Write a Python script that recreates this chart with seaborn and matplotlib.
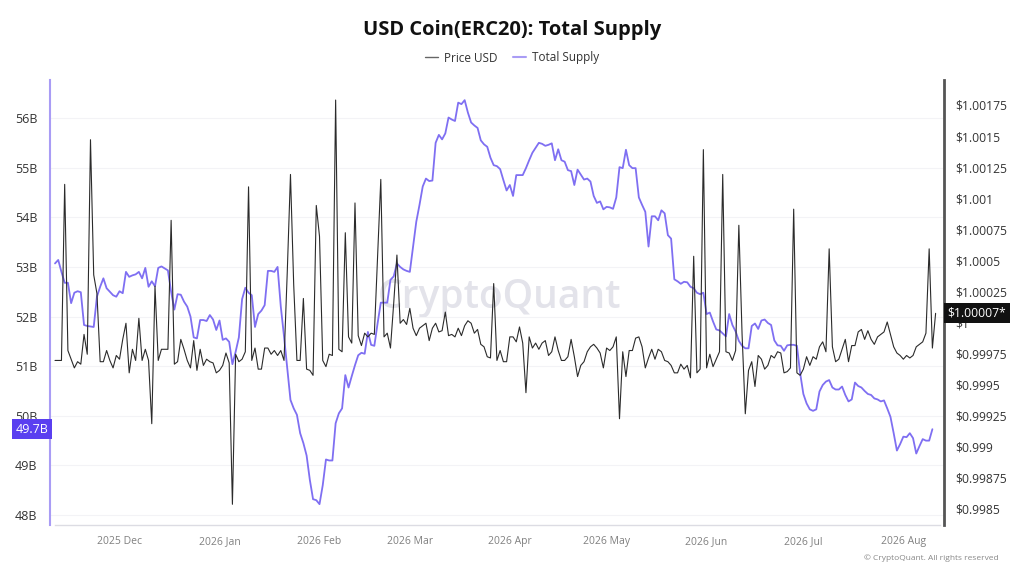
import pandas as pd
import matplotlib
matplotlib.use("Agg")
import matplotlib.pyplot as plt
import matplotlib.dates as mdates
import matplotlib.transforms as mtransforms
from matplotlib.lines import Line2D
from matplotlib.ticker import FixedLocator, FuncFormatter
import seaborn as sns

# daily values, starting 2025-11-11
start_date = "2025-11-11"

supply_b = [
    53.07, 53.14, 52.90, 52.68, 52.68, 52.27, 52.48, 52.51, 52.49, 51.83,
    51.81, 51.80, 51.79, 52.40, 52.60, 52.77, 52.57, 52.50, 52.43, 52.40,
    52.51, 52.47, 52.90, 52.80, 52.83, 52.85, 52.90, 52.77, 52.98, 52.60,
    52.71, 52.61, 52.98, 53.01, 52.97, 52.93, 52.50, 52.14, 52.45, 52.44,
    52.30, 52.20, 52.00, 51.58, 51.56, 51.93, 51.93, 51.91, 52.03, 51.94,
    51.73, 51.92, 51.53, 51.56, 51.49, 51.04, 51.29, 51.58, 52.35, 52.58,
    52.48, 52.43, 51.79, 52.05, 52.12, 52.23, 52.92, 52.92, 52.90, 53.00,
    52.20, 51.60, 50.95, 50.32, 50.15, 50.02, 49.65, 49.45, 49.20, 48.71,
    48.32, 48.30, 48.22, 48.60, 49.12, 49.10, 49.10, 49.85, 50.05, 50.15,
    50.82, 50.57, 50.80, 51.02, 51.22, 51.27, 51.25, 51.69, 51.43, 51.41,
    51.86, 52.28, 52.28, 52.28, 52.74, 52.81, 53.07, 53.00, 52.95, 52.92,
    52.90, 53.41, 53.91, 54.25, 54.62, 54.78, 54.73, 54.74, 55.50, 55.66,
    55.57, 55.69, 56.01, 55.97, 55.94, 56.31, 56.28, 56.36, 56.11, 55.91,
    55.85, 55.80, 55.55, 55.47, 55.42, 55.20, 55.05, 55.03, 54.97, 54.75,
    54.54, 54.65, 54.43, 54.85, 54.85, 54.85, 54.99, 55.15, 55.30, 55.40,
    55.50, 55.48, 55.44, 55.46, 55.49, 55.15, 55.37, 55.15, 55.12, 54.95,
    54.93, 54.65, 54.96, 54.86, 54.76, 54.78, 54.72, 54.43, 54.29, 54.32,
    54.16, 54.21, 54.20, 54.17, 54.40, 55.01, 54.99, 55.36, 55.05, 54.99,
    54.99, 54.40, 54.25, 54.11, 53.41, 54.02, 54.02, 53.94, 54.14, 54.08,
    53.64, 53.57, 52.75, 52.71, 52.66, 52.70, 52.69, 52.60, 52.57, 52.48,
    52.45, 52.48, 52.05, 52.08, 51.90, 51.74, 51.72, 51.66, 51.60, 52.05,
    51.83, 51.70, 51.51, 51.41, 51.36, 51.36, 51.81, 51.86, 51.75, 51.92,
    51.94, 51.87, 51.83, 51.52, 51.42, 51.41, 51.31, 51.42, 51.43, 51.43,
    51.41, 50.86, 50.44, 50.25, 50.13, 50.10, 50.13, 50.49, 50.62, 50.69,
    50.72, 50.57, 50.53, 50.53, 50.59, 50.42, 50.29, 50.33, 50.67, 50.60,
    50.57, 50.50, 50.44, 50.42, 50.35, 50.33, 50.29, 50.31, 50.15, 49.98,
    49.65, 49.30, 49.43, 49.58, 49.57, 49.65, 49.55, 49.24, 49.39, 49.53,
    49.50, 49.50, 49.73,
]

price_usd = [
    0.99969, 0.99969, 0.99969, 1.00111, 0.99977, 0.99970, 0.99963, 0.99968, 0.99966, 0.99990,
    0.99974, 1.00147, 1.00038, 1.00023, 0.99968, 0.99968, 0.99977, 0.99969, 0.99963, 0.99973,
    0.99970, 0.99986, 0.99999, 0.99959, 0.99978, 0.99969, 1.00003, 0.99969, 0.99978, 0.99969,
    0.99918, 1.00029, 0.99969, 0.99978, 0.99978, 0.99978, 1.00082, 0.99966, 0.99968, 0.99986,
    0.99978, 0.99969, 0.99963, 0.99985, 0.99961, 0.99978, 0.99965, 0.99970, 0.99968, 0.99967,
    0.99959, 0.99961, 0.99965, 0.99975, 0.99967, 0.99853, 0.99974, 0.99968, 0.99970, 0.99976,
    1.00109, 0.99969, 0.99979, 0.99962, 0.99962, 0.99979, 0.99979, 0.99974, 0.99977, 0.99973,
    0.99977, 0.99969, 1.00040, 1.00119, 1.00030, 0.99969, 0.99969, 1.00019, 0.99962, 0.99961,
    0.99957, 1.00094, 1.00069, 0.99969, 0.99964, 0.99974, 0.99973, 1.00179, 0.99978, 0.99976,
    1.00072, 0.99988, 0.99983, 1.00096, 0.99989, 0.99981, 0.99991, 0.99988, 0.99991, 0.99990,
    1.00053, 1.00115, 0.99988, 0.99991, 0.99979, 1.00015, 1.00054, 0.99999, 1.00002, 0.99998,
    1.00011, 0.99995, 0.99989, 0.99995, 0.99997, 0.99999, 0.99985, 0.99995, 0.99999, 0.99992,
    0.99993, 1.00008, 0.99989, 0.99990, 0.99988, 0.99995, 0.99989, 0.99997, 1.00001, 0.99999,
    0.99991, 0.99994, 0.99982, 0.99980, 0.99972, 0.99971, 1.00031, 0.99969, 0.99977, 0.99968,
    0.99968, 0.99988, 0.99988, 0.99984, 0.99996, 0.99983, 0.99943, 0.99988, 0.99979, 0.99983,
    0.99978, 0.99983, 0.99985, 0.99973, 0.99976, 0.99988, 0.99977, 0.99969, 0.99969, 0.99972,
    0.99986, 0.99972, 0.99956, 0.99965, 0.99968, 0.99976, 0.99980, 0.99982, 0.99979, 0.99975,
    0.99963, 0.99979, 0.99977, 0.99980, 0.99988, 0.99922, 0.99976, 0.99956, 0.99977, 0.99977,
    0.99987, 0.99988, 0.99980, 0.99963, 0.99971, 0.99978, 0.99970, 0.99978, 0.99976, 0.99969,
    0.99968, 0.99965, 0.99959, 0.99959, 0.99966, 0.99962, 0.99965, 0.99955, 1.00053, 0.99959,
    0.99962, 1.00139, 0.99963, 0.99974, 0.99964, 0.99970, 0.99976, 1.00119, 0.99976, 0.99975,
    0.99969, 0.99977, 1.00078, 0.99990, 0.99926, 0.99961, 0.99968, 0.99948, 0.99973, 0.99970,
    0.99962, 0.99965, 0.99973, 0.99971, 0.99976, 0.99975, 0.99959, 0.99960, 0.99963, 1.00091,
    0.99959, 0.99957, 0.99962, 0.99972, 0.99965, 0.99972, 0.99970, 0.99980, 0.99984, 0.99976,
    1.00059, 0.99980, 0.99968, 0.99970, 0.99978, 0.99986, 0.99968, 0.99981, 0.99981, 0.99992,
    0.99994, 0.99986, 0.99993, 0.99986, 0.99982, 0.99988, 0.99990, 0.99992, 1.00000, 0.99990,
    0.99980, 0.99975, 0.99973, 0.99970, 0.99973, 0.99971, 0.99973, 0.99980, 0.99982, 0.99984,
    0.99991, 1.00059, 0.99979, 1.00007,
]

left_ticks = [48, 49, 50, 51, 52, 53, 54, 55, 56]
right_ticks = [0.9985, 0.99875, 0.999, 0.99925, 0.9995, 0.99975, 1.0,
               1.00025, 1.0005, 1.00075, 1.001, 1.00125, 1.0015, 1.00175]

supply_df = pd.DataFrame({
    "date": pd.date_range(start_date, periods=len(supply_b), freq="D"),
    "supply": supply_b,
})
price_df = pd.DataFrame({
    "date": pd.date_range(start_date, periods=len(price_usd), freq="D"),
    "price": price_usd,
})

sns.set_style("white")
plt.rcParams["font.family"] = ["Open Sans", "DejaVu Sans"]

SUPPLY_COL = "#7f6ff2"
PRICE_COL = "#2b2b2b"

fig = plt.figure(figsize=(10.24, 5.76), dpi=100)
ax = fig.add_axes([50 / 1024, 1 - 525 / 576, 894 / 1024, 445 / 576])
ax2 = ax.twinx()

sns.lineplot(data=supply_df, x="date", y="supply", ax=ax, color=SUPPLY_COL, lw=1.3)
sns.lineplot(data=price_df, x="date", y="price", ax=ax2, color=PRICE_COL, lw=0.8)

d0 = mdates.date2num(supply_df["date"].iloc[0])
ax.set_xlim(d0 - 1.55, d0 + 275.6)
ax.set_ylim(47.80, 56.766)
ax2.set_ylim(0.998363, 1.0019516)

# left axis
ax.yaxis.set_major_locator(FixedLocator(left_ticks))
ax.yaxis.set_major_formatter(FuncFormatter(lambda v, p: f"{v:.0f}B"))
ax.grid(axis="y", color="#f3f3f6", lw=0.8)
ax.set_xlabel("")
ax.set_ylabel("")
ax2.set_ylabel("")
ax.tick_params(axis="y", length=0, pad=9, labelsize=9, labelcolor="#333333")

# right axis
ax2.yaxis.set_major_locator(FixedLocator(right_ticks))
ax2.yaxis.set_major_formatter(FuncFormatter(lambda v, p: f"${v:g}"))
ax2.tick_params(axis="y", length=0, pad=8, labelsize=8.7, labelcolor="#333333")

# x axis
ax.xaxis.set_major_locator(mdates.MonthLocator())
ax.xaxis.set_major_formatter(mdates.DateFormatter("%Y %b"))
ax.tick_params(axis="x", length=5, width=0.8, color="#dcdce3", pad=3,
               labelsize=7.5, labelcolor="#808080")

for s in ["top", "right"]:
    ax.spines[s].set_visible(False)
ax.spines["left"].set_color("#a99cf5")
ax.spines["left"].set_linewidth(1.5)
ax.spines["bottom"].set_color("#dcdce3")
ax.spines["bottom"].set_linewidth(1)
ax.spines["bottom"].set_bounds(d0, d0 + 274.4)
for s in ["top", "left", "bottom"]:
    ax2.spines[s].set_visible(False)
ax2.spines["right"].set_color("#555555")
ax2.spines["right"].set_linewidth(2)

# watermark
ax.text(0.503, 0.51, "CryptoQuant", transform=ax.transAxes, ha="center", va="center",
        fontsize=28, fontweight="semibold", color="#e3e3ea", zorder=0)

# last value boxes (they sit over the 50B and $1 labels, as in the source)
tl = mtransforms.blended_transform_factory(ax.transAxes, ax.transData)
ax.text(-0.002, supply_b[-1], f"{supply_b[-1]:.1f}B", transform=tl, ha="right", va="center",
        fontsize=9, color="white", zorder=10, clip_on=False,
        bbox=dict(boxstyle="square,pad=0.3", fc="#5a3ff0", ec="none"))
tr = mtransforms.blended_transform_factory(ax2.transAxes, ax2.transData)
ax2.text(1.004, price_usd[-1], f"${price_usd[-1]:.5f}*", transform=tr, ha="left", va="center",
         fontsize=8.7, color="white", zorder=10, clip_on=False,
         bbox=dict(boxstyle="square,pad=0.3", fc="#111111", ec="none"))

# title, legend, footer
fig.text(0.5, 1 - 30 / 576, "USD Coin(ERC20): Total Supply", ha="center", va="center",
         fontsize=14.5, fontweight="bold", color="#111111")
handles = [Line2D([], [], color="#666666", lw=1), Line2D([], [], color="#a99cf5", lw=1.5)]
fig.legend(handles, ["Price USD", "Total Supply"], loc="center", ncol=2,
           bbox_to_anchor=(0.5, 1 - 58 / 576), frameon=False, fontsize=8.5,
           handlelength=1.1, handletextpad=0.5, columnspacing=1.3, labelcolor="#333333")
fig.text(0.975, 1 - 558 / 576, "© CryptoQuant. All rights reserved", ha="right", va="center",
         fontsize=6, color="#888888")

fig.savefig("out.png", dpi=100)
